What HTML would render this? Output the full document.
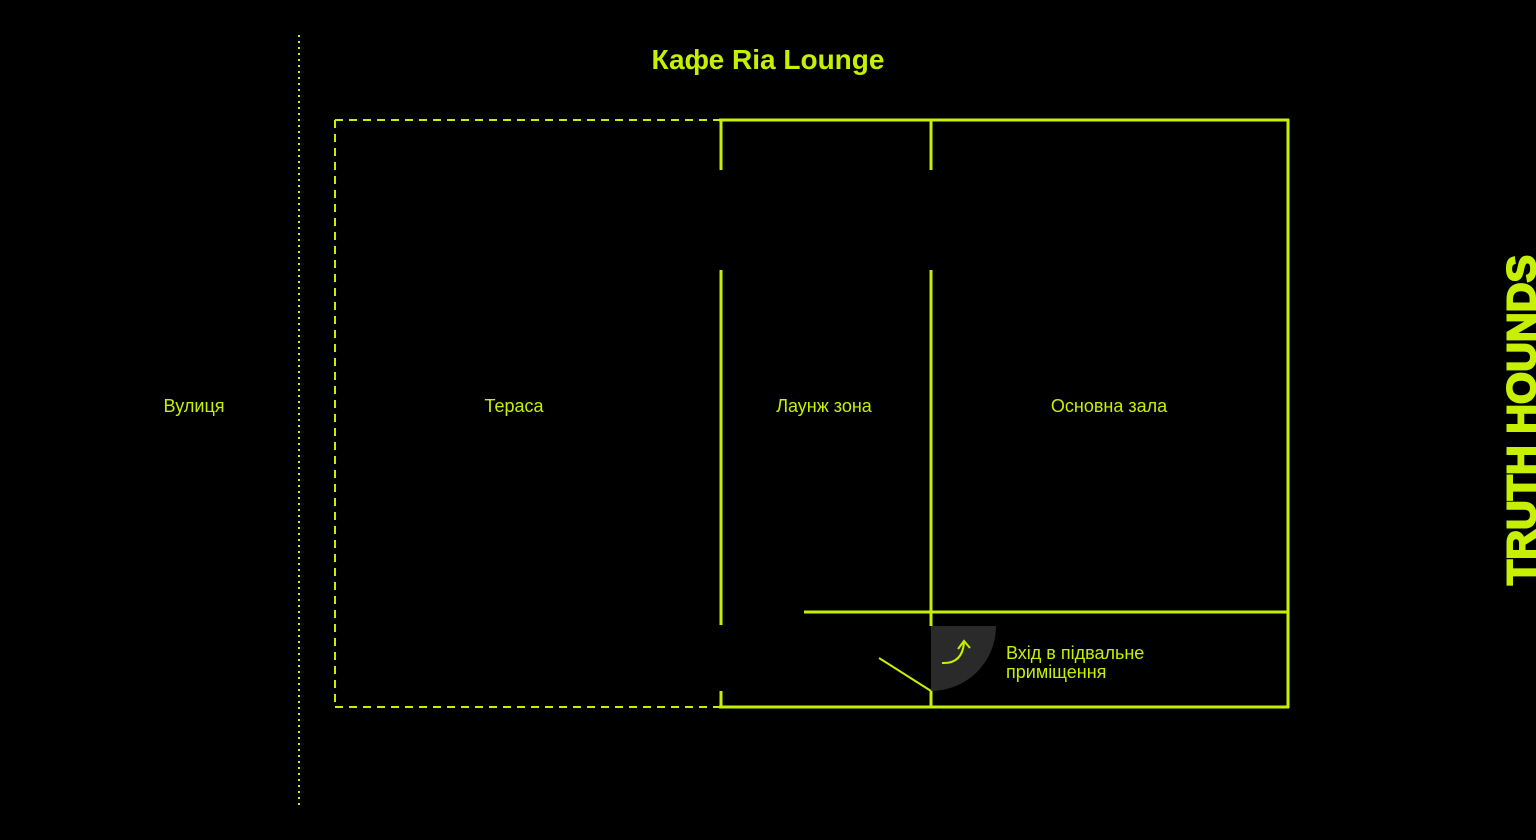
<!DOCTYPE html>
<html><head><meta charset="utf-8"><style>
html,body{margin:0;padding:0;background:#000;width:1536px;height:840px;overflow:hidden}
svg{display:block}
text{font-family:"Liberation Sans","DejaVu Sans",sans-serif;fill:#c6f000}
</style></head><body>
<svg width="1536" height="840" viewBox="0 0 1536 840">
<rect width="1536" height="840" fill="#000"/>
<line x1="299" y1="35" x2="299" y2="805" stroke="#c6f000" stroke-width="2" stroke-dasharray="2 4"/>
<g stroke="#c6f000" stroke-width="2" stroke-dasharray="8 6" fill="none">
<line x1="335" y1="120" x2="720" y2="120"/>
<line x1="335" y1="707" x2="720" y2="707"/>
<line x1="335" y1="120" x2="335" y2="707"/>
</g>
<g stroke="#c6f000" stroke-width="3" fill="none">
<line x1="719" y1="120" x2="1289" y2="120"/>
<line x1="719" y1="707" x2="1289" y2="707"/>
<line x1="1288" y1="119" x2="1288" y2="708"/>
<line x1="721" y1="120" x2="721" y2="170"/>
<line x1="721" y1="270" x2="721" y2="625"/>
<line x1="721" y1="691" x2="721" y2="707"/>
<line x1="931" y1="120" x2="931" y2="170"/>
<line x1="931" y1="270" x2="931" y2="626"/>
<line x1="931" y1="691" x2="931" y2="707"/>
<line x1="804" y1="612" x2="1288" y2="612"/>
</g>
<path d="M931 626 L996 626 A65 65 0 0 1 931 691 Z" fill="#2a2a2a"/>
<line x1="879" y1="658" x2="931" y2="691" stroke="#c6f000" stroke-width="2"/>
<path d="M942 663 Q962 664 964 643" stroke="#c6f000" stroke-width="2" fill="none"/>
<path d="M958 649 L964 641 L970 648" stroke="#c6f000" stroke-width="2" fill="none"/>
<text x="768" y="69" text-anchor="middle" font-size="28" font-weight="bold">Кафе Ria Lounge</text>
<text x="194" y="412" text-anchor="middle" font-size="18">Вулиця</text>
<text x="514" y="412" text-anchor="middle" font-size="18">Тераса</text>
<text x="824" y="412" text-anchor="middle" font-size="18">Лаунж зона</text>
<text x="1109" y="412" text-anchor="middle" font-size="18">Основна зала</text>
<text x="1006" y="659" font-size="18">Вхід в підвальне</text>
<text x="1006" y="678" font-size="18">приміщення</text>
<text transform="translate(1535,420) rotate(-90)" text-anchor="middle" font-size="40" font-weight="900" stroke="#c6f000" stroke-width="2" textLength="330" lengthAdjust="spacingAndGlyphs">TRUTH HOUNDS</text>
</svg>
</body></html>
